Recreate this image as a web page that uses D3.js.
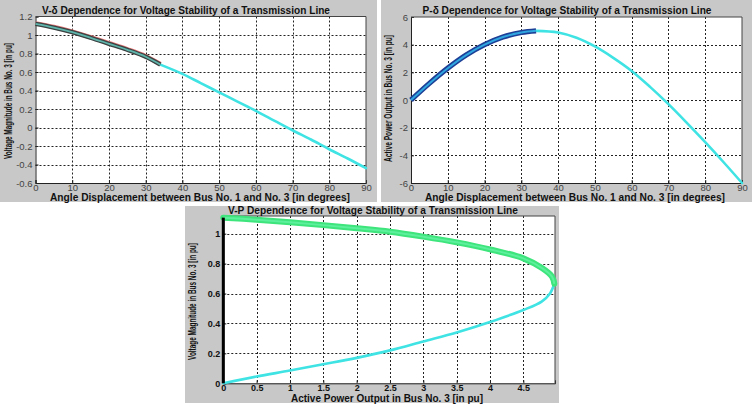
<!DOCTYPE html>
<html>
<head>
<meta charset="utf-8">
<script src="https://cdnjs.cloudflare.com/ajax/libs/d3/7.8.5/d3.min.js"></script>
<style>
  body { margin: 0; background: #fff; }
  svg { display: block; }
</style>
</head>
<body>
<svg width="753" height="408"></svg>
<script>
// angle (deg), stable part drawn thick
var deltaStable = [0, 5, 10, 15, 20, 25, 30, 34];
var vStable = [1.12, 1.08, 1.03, 0.97, 0.905, 0.84, 0.765, 0.68];
var pStable = [0, 1.2, 2.3, 3.25, 4.0, 4.55, 4.88, 5.0];
// rest of the curve (cyan)
var deltaRest = [34, 40, 45, 50, 55, 60, 65, 70, 75, 80, 85, 90];
var vRest = [0.68, 0.58, 0.48, 0.38, 0.28, 0.18, 0.075, -0.03, -0.13, -0.235, -0.335, -0.44];
var pRest = [5.0, 4.88, 4.5, 3.87, 3.05, 2.1, 0.95, -0.3, -1.65, -3.05, -4.5, -6.0];
// V-P nose curve
var pUpper = [0, 0.5, 1, 1.5, 2, 2.5, 3, 3.5, 4, 4.5, 4.78, 4.93, 4.965];
var vUpper = [1.107, 1.093, 1.076, 1.057, 1.036, 1.013, 0.98, 0.942, 0.895, 0.835, 0.77, 0.713, 0.665];
var pLower = [4.965, 4.9, 4.775, 4.5, 4, 3.5, 3, 2.5, 2, 1.5, 1, 0.5, 0];
var vLower = [0.665, 0.6, 0.546, 0.49, 0.41, 0.34, 0.28, 0.22, 0.17, 0.127, 0.085, 0.045, 0];

// tick labels
var angleTicks = [0, 10, 20, 30, 40, 50, 60, 70, 80, 90];
var vTicks1 = [-0.6, -0.4, -0.2, 0, 0.2, 0.4, 0.6, 0.8, 1, 1.2];
var pTicks2 = [-6, -4, -2, 0, 2, 4, 6];
var pTicks3 = [0, 0.5, 1, 1.5, 2, 2.5, 3, 3.5, 4, 4.5];
var vTicks3 = [0, 0.2, 0.4, 0.6, 0.8, 1];

var svg = d3.select("svg");
var FONT = "'Liberation Sans', Arial, sans-serif";

function Zip(xs, ys) {
  return xs.map(function(x, i) { return [x, ys[i]]; });
}

function fmt(d) { return String(+d.toFixed(2)); }

function PlotPanel(cfg) {
  var g = svg.append("g");

  g.append("rect")
    .attr("x", cfg.bg[0]).attr("y", cfg.bg[1])
    .attr("width", cfg.bg[2]).attr("height", cfg.bg[3])
    .attr("fill", "#c8c8c8");

  var x = d3.scaleLinear().domain(cfg.xDomain).range([cfg.plot[0], cfg.plot[1]]);
  var y = d3.scaleLinear().domain(cfg.yDomain).range([cfg.plot[3], cfg.plot[2]]);

  g.append("rect")
    .attr("x", cfg.plot[0]).attr("y", cfg.plot[2])
    .attr("width", cfg.plot[1] - cfg.plot[0])
    .attr("height", cfg.plot[3] - cfg.plot[2])
    .attr("fill", "#fff");

  // dotted grid
  g.append("g").selectAll("line")
    .data(cfg.xTicks.filter(function(d) { return d > cfg.xDomain[0] && d < cfg.xDomain[1]; }))
    .enter().append("line")
    .attr("x1", function(d) { return Math.round(x(d)) + 0.5; })
    .attr("x2", function(d) { return Math.round(x(d)) + 0.5; })
    .attr("y1", cfg.plot[2]).attr("y2", cfg.plot[3])
    .style("stroke", "#222").style("stroke-dasharray", "2,2").style("stroke-width", 1);

  g.append("g").selectAll("line")
    .data(cfg.yTicks.filter(function(d) { return d > cfg.yDomain[0] && d < cfg.yDomain[1]; }))
    .enter().append("line")
    .attr("y1", function(d) { return Math.round(y(d)) + 0.5; })
    .attr("y2", function(d) { return Math.round(y(d)) + 0.5; })
    .attr("x1", cfg.plot[0]).attr("x2", cfg.plot[1])
    .style("stroke", "#222").style("stroke-dasharray", "2,2").style("stroke-width", 1);

  // axes
  var xAxis = d3.axisBottom(x).tickValues(cfg.xTicks).tickSize(-3).tickPadding(1).tickFormat(fmt);
  var yAxis = d3.axisLeft(y).tickValues(cfg.yTicks).tickSize(-3).tickPadding(3).tickFormat(fmt);

  var gx = g.append("g").attr("transform", "translate(0," + cfg.plot[3] + ")").call(xAxis);
  var gy = g.append("g").attr("transform", "translate(" + cfg.plot[0] + ",0)").call(yAxis);

  [gx, gy].forEach(function(a) {
    a.selectAll("path.domain").style("stroke", "#222");
    a.selectAll("line").style("stroke", "#222");
    a.selectAll("text")
      .attr("font-family", FONT)
      .attr("font-size", cfg.tickSize)
      .attr("font-weight", cfg.tickWeight)
      .attr("fill", cfg.tickColor);
  });

  // box top / right
  g.append("path")
    .attr("d", "M" + cfg.plot[0] + "," + cfg.plot[2] + "H" + cfg.plot[1] + "V" + cfg.plot[3])
    .style("fill", "none").style("stroke", "#444").style("stroke-width", 1);

  var line = d3.line()
    .x(function(d) { return x(d[0]); })
    .y(function(d) { return y(d[1]); })
    .curve(d3.curveCatmullRom);

  cfg.series.forEach(function(s) {
    g.append("path")
      .datum(s.data)
      .attr("d", line)
      .attr("transform", s.dy ? "translate(0," + s.dy + ")" : null)
      .style("fill", "none")
      .style("stroke", s.color)
      .style("stroke-width", s.width)
      .style("stroke-linecap", s.cap || "butt")
      .style("stroke-linejoin", "round");
  });

  // titles
  g.append("text")
    .attr("x", cfg.title.x).attr("y", cfg.title.y)
    .attr("text-anchor", "middle")
    .attr("font-family", FONT).attr("font-size", 10).attr("font-weight", "bold")
    .attr("fill", "#111")
    .attr("textLength", cfg.title.len).attr("lengthAdjust", "spacingAndGlyphs")
    .text(cfg.title.text);

  g.append("text")
    .attr("x", cfg.xLabel.x).attr("y", cfg.xLabel.y)
    .attr("text-anchor", "middle")
    .attr("font-family", FONT).attr("font-size", 10).attr("font-weight", "bold")
    .attr("fill", "#111")
    .attr("textLength", cfg.xLabel.len).attr("lengthAdjust", "spacingAndGlyphs")
    .text(cfg.xLabel.text);

  // y label: narrow look, squeezed with a scale so the box stays honest
  var yl = g.append("text")
    .attr("text-anchor", "middle")
    .attr("font-family", FONT).attr("font-size", 10).attr("font-weight", "bold")
    .attr("fill", "#111")
    .text(cfg.yLabel.text);
  var natural = yl.node().getComputedTextLength() || cfg.yLabel.len;
  yl.attr("transform", "translate(" + cfg.yLabel.x + "," + cfg.yLabel.y + ") rotate(-90) scale(" +
    (cfg.yLabel.len / natural).toFixed(3) + ",1)");

  return { x: x, y: y, g: g };
}

var cyan = "#3fe3e3";

// V-delta
PlotPanel({
  bg: [0, 0, 377, 202],
  plot: [35.5, 366, 16.5, 183],
  xDomain: [0, 90], yDomain: [-0.6, 1.2],
  xTicks: angleTicks, yTicks: vTicks1,
  tickSize: 9.5, tickWeight: "normal", tickColor: "#444",
  series: [
    { data: Zip(deltaRest, vRest), color: cyan, width: 2.6, cap: "round" },
    { data: Zip(deltaStable, vStable), color: "#e87878", width: 4.4, dy: -0.6 },
    { data: Zip(deltaStable, vStable), color: "#3a4242", width: 4.4 },
    { data: Zip(deltaStable, vStable), color: "#5fb5ab", width: 1.8 }
  ],
  title: { text: "V-\u03b4 Dependence for Voltage Stability of a Transmission Line", x: 186, y: 13.5, len: 288 },
  xLabel: { text: "Angle Displacement between Bus No. 1 and No. 3 [in degrees]", x: 200, y: 200.5, len: 300 },
  yLabel: { text: "Voltage Magnitude in Bus No. 3 [in pu]", x: 12, y: 101, len: 116 }
});

// P-delta
PlotPanel({
  bg: [381, 0, 371, 202],
  plot: [411, 742, 17, 183],
  xDomain: [0, 90], yDomain: [-6, 6],
  xTicks: angleTicks, yTicks: pTicks2,
  tickSize: 9.5, tickWeight: "normal", tickColor: "#444",
  series: [
    { data: Zip(deltaRest, pRest), color: cyan, width: 2.6, cap: "round" },
    { data: Zip(deltaStable, pStable), color: "#1d3f96", width: 5.2 },
    { data: Zip(deltaStable, pStable), color: "#2fa6e0", width: 2 }
  ],
  title: { text: "P-\u03b4 Dependence for Voltage Stability of a Transmission Line", x: 567, y: 13.5, len: 289 },
  xLabel: { text: "Angle Displacement between Bus No. 1 and No. 3 [in degrees]", x: 575, y: 200.5, len: 300 },
  yLabel: { text: "Active Power Output in Bus No. 3 [in pu]", x: 392, y: 98.5, len: 127 }
});

// V-P
var p3 = PlotPanel({
  bg: [185, 206, 374, 197],
  plot: [223.3, 555, 216, 383.3],
  xDomain: [0, 4.975], yDomain: [0, 1.118],
  xTicks: pTicks3, yTicks: vTicks3,
  tickSize: 9, tickWeight: "bold", tickColor: "#111",
  series: [
    { data: Zip(pLower, vLower), color: cyan, width: 2.6, cap: "round" },
    { data: Zip(pUpper, vUpper), color: "#3ee47c", width: 6, cap: "round" },
    { data: Zip(pUpper, vUpper), color: "#5cf09c", width: 2 }
  ],
  title: { text: "V-P Dependence for Voltage Stability of a Transmission Line", x: 373, y: 213.5, len: 290 },
  xLabel: { text: "Active Power Output in Bus No. 3 [in pu]", x: 387, y: 401.5, len: 192 },
  yLabel: { text: "Voltage Magnitude in Bus No. 3 [in pu]", x: 196, y: 301.5, len: 117 }
});

// thick black line along P = 0
p3.g.append("line")
  .attr("x1", p3.x(0)).attr("x2", p3.x(0))
  .attr("y1", p3.y(0)).attr("y2", p3.y(vUpper[0]))
  .style("stroke", "#000").style("stroke-width", 3);
</script>
</body>
</html>
